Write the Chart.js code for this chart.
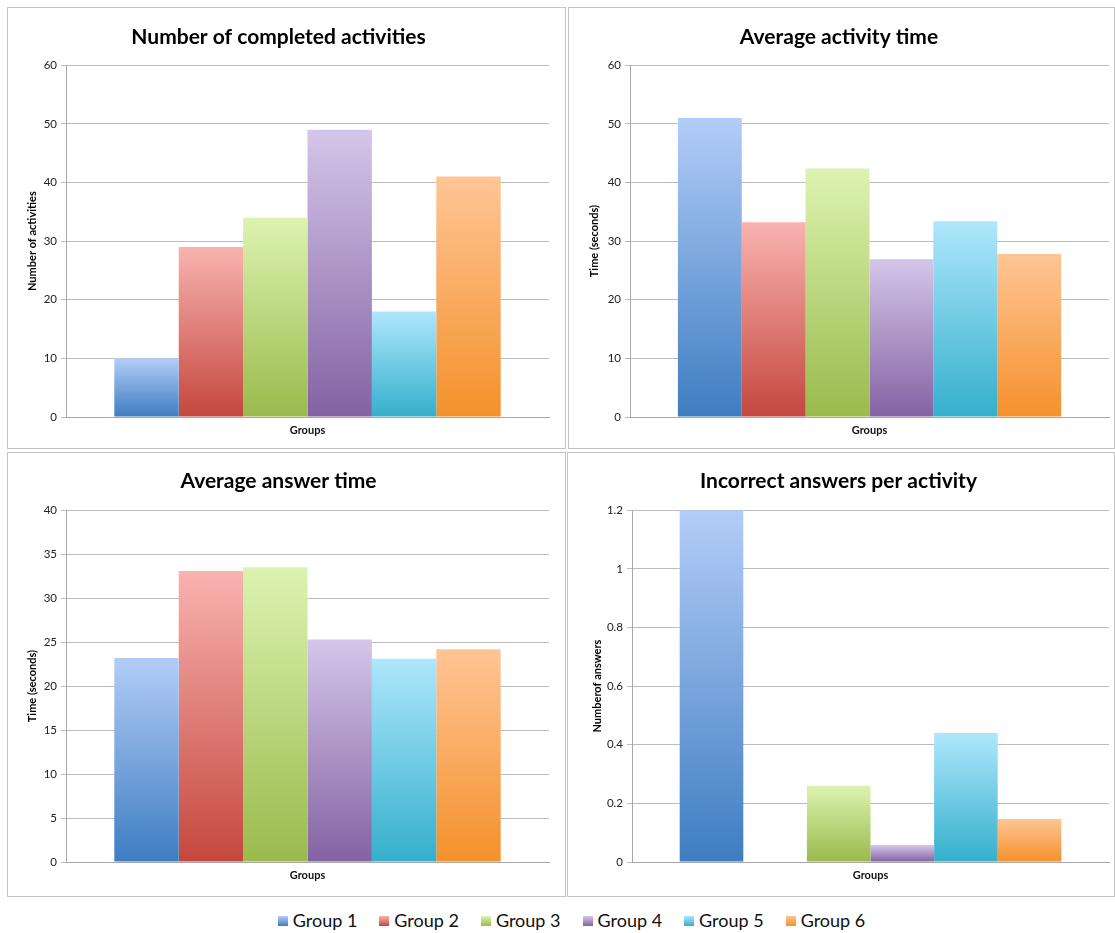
<!DOCTYPE html>
<html>
<head>
<meta charset="utf-8">
<script src="https://cdn.jsdelivr.net/npm/chart.js@4"></script>
<style>
  body { margin: 0; background: #fff; width: 1115px; height: 933px; position: relative; overflow: hidden; font-family: Lato, "Open Sans", sans-serif; }
  .panel { position: absolute; box-sizing: border-box; border: 1px solid #c4c4c4; background: #fff; }
  .panel canvas { display: block; }
  #legend { position: absolute; left: 14px; top: 909px; width: 1115px; text-align: center; font-size: 18px; color: #111; }
  #legend span.item { display: inline-block; margin: 0 11px 0 11px; }
  #legend span.box { display: inline-block; width: 10px; height: 10px; margin-right: 5px; vertical-align: 1px; }
</style>
</head>
<body>
<div class="panel" style="left:7px;top:7px;width:559px;height:442px"><canvas id="c1"></canvas></div>
<div class="panel" style="left:568px;top:7px;width:547px;height:442px"><canvas id="c2"></canvas></div>
<div class="panel" style="left:7px;top:452px;width:559px;height:445px"><canvas id="c3"></canvas></div>
<div class="panel" style="left:567px;top:452px;width:548px;height:445px"><canvas id="c4"></canvas></div>
<div id="legend"></div>
<script>
const groups = ['Group 1', 'Group 2', 'Group 3', 'Group 4', 'Group 5', 'Group 6'];
const category = ['Groups'];

const completedActivities = [10, 29, 34, 49, 18, 41];
const activityTime = [51, 33.2, 42.4, 26.9, 33.4, 27.8];
const answerTime = [23.2, 33.1, 33.5, 25.3, 23.1, 24.2];
const incorrectAnswers = [1.2, 0, 0.26, 0.058, 0.44, 0.147];

// light top / dark bottom of each bar
const topColors = ['#b3cdf8', '#f9b3b0', '#dcf3b1', '#d4c6e9', '#aee7fc', '#ffc596'];
const bottomColors = ['#3e7dc1', '#c4473e', '#9aba4c', '#8462a3', '#35afcc', '#f4912b'];

function barFill(i) {
  return function(ctx) {
    const chart = ctx.chart;
    if (!chart.chartArea || ctx.type !== 'data') return bottomColors[i];
    const y = chart.scales.y;
    const top = y.getPixelForValue(ctx.raw);
    const bottom = y.getPixelForValue(0);
    if (bottom - top < 1) return bottomColors[i];
    const g = chart.ctx.createLinearGradient(0, top, 0, bottom);
    g.addColorStop(0, topColors[i]);
    g.addColorStop(1, bottomColors[i]);
    return g;
  };
}

function makeChart(id, title, yTitle, values, yMax, yStep, o) {
  new Chart(document.getElementById(id), {
    type: 'bar',
    data: {
      labels: category,
      datasets: groups.map((g, i) => ({
        label: g,
        data: [values[i]],
        backgroundColor: barFill(i),
        borderWidth: 0
      }))
    },
    options: {
      responsive: true,
      maintainAspectRatio: false,
      animation: false,
      layout: { padding: { left: 0, right: o.padRight, top: 0, bottom: 0 } },
      datasets: { bar: { categoryPercentage: 0.8, barPercentage: 1.0 } },
      plugins: {
        legend: { display: false },
        tooltip: { enabled: false },
        title: {
          display: true,
          text: title,
          color: '#000',
          font: { family: 'Lato', size: 21, weight: 'bold' },
          padding: { top: o.titleTop, bottom: o.titleBottom }
        }
      },
      scales: {
        x: {
          grid: { display: false, drawTicks: false },
          border: { display: true, color: '#a8a8a8', width: 1 },
          ticks: { color: '#111', padding: 7, font: { family: 'Lato', size: 11, weight: 'bold' } },
          afterFit: s => { s.height = o.xHeight; }
        },
        y: {
          min: 0,
          max: yMax,
          ticks: {
            stepSize: yStep,
            color: '#222',
            padding: 4,
            font: { family: 'Lato', size: 11.5 },
            callback: v => String(Number(v.toFixed(2)))
          },
          grid: { color: '#bcbcbc', tickLength: 5 },
          border: { color: '#a8a8a8' },
          title: {
            display: true,
            text: yTitle,
            color: '#000',
            font: { family: 'Lato', size: 11, weight: 'bold' },
            padding: { top: o.yTitleX - 7, bottom: 0 }
          },
          afterFit: s => { s.width = o.yWidth; }
        }
      }
    }
  });
}

makeChart('c1', 'Number of completed activities', 'Number of activities', completedActivities, 60, 10,
  { yWidth: 58, yTitleX: 25, padRight: 16, titleTop: 17, titleBottom: 15, xHeight: 31 });
makeChart('c2', 'Average activity time', 'Time (seconds)', activityTime, 60, 10,
  { yWidth: 61, yTitleX: 26, padRight: 5, titleTop: 17, titleBottom: 15, xHeight: 31 });
makeChart('c3', 'Average answer time', 'Time (seconds)', answerTime, 40, 5,
  { yWidth: 58, yTitleX: 25, padRight: 16, titleTop: 16, titleBottom: 16, xHeight: 34 });
makeChart('c4', 'Incorrect answers per activity', 'Numberof answers', incorrectAnswers, 1.2, 0.2,
  { yWidth: 64, yTitleX: 30, padRight: 5, titleTop: 16, titleBottom: 16, xHeight: 34 });

const legend = document.getElementById('legend');
groups.forEach((g, i) => {
  const item = document.createElement('span');
  item.className = 'item';
  const box = document.createElement('span');
  box.className = 'box';
  box.style.background = 'linear-gradient(' + topColors[i] + ', ' + bottomColors[i] + ')';
  item.appendChild(box);
  item.appendChild(document.createTextNode(g));
  legend.appendChild(item);
});
</script>
</body>
</html>
